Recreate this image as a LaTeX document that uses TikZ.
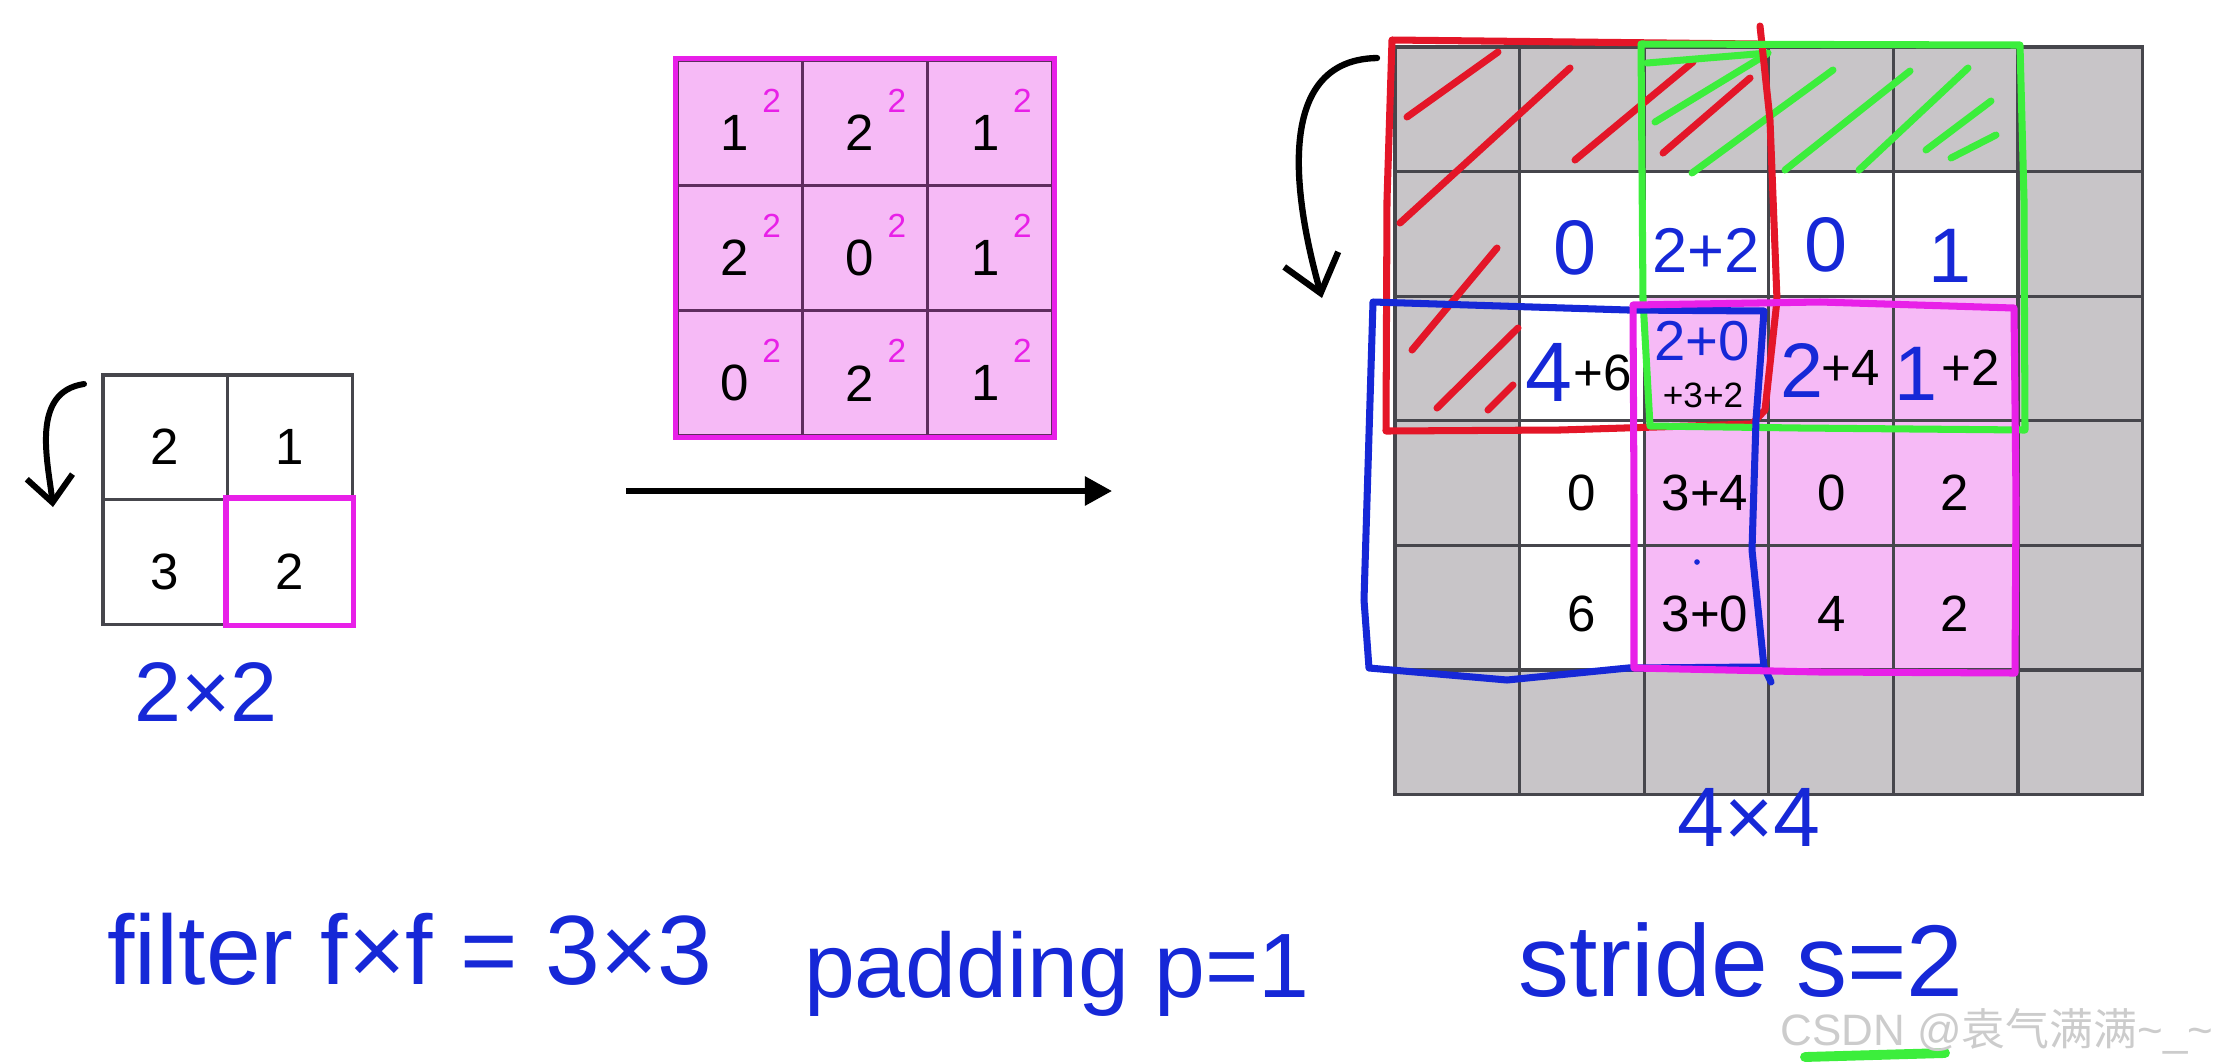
\documentclass[tikz,border=0pt]{standalone}
\usepackage{fontspec}
\setmainfont{Liberation Sans}
\newfontfamily\cjkfont{Noto Sans CJK SC}
\usetikzlibrary{arrows.meta}

\definecolor{penblue}{RGB}{22,40,215}
\definecolor{penred}{RGB}{228,22,40}
\definecolor{pengreen}{RGB}{60,238,60}
\definecolor{magline}{RGB}{232,32,232}
\definecolor{pinkcell}{RGB}{246,186,246}
\definecolor{padgray}{RGB}{200,197,200}
\definecolor{gridgray}{RGB}{70,70,76}
\definecolor{filtline}{RGB}{95,45,95}

\begin{document}
\begin{tikzpicture}[x=0.01cm, y=-0.01cm,
    every node/.style={font=\fontsize{14.5}{16}\selectfont, inner sep=0pt},
    cl/.style={draw=gridgray, line width=0.9pt, minimum size=1.246cm},
    fl/.style={draw=filtline, line width=0.9pt, fill=pinkcell, minimum size=1.253cm},
    hw/.style={text=penblue, font=\fontsize{#1}{#1}\selectfont}, hw/.default=22,
    sq/.style={text=magline, font=\fontsize{9.5}{10}\selectfont},
    pen/.style={line width=2pt, line cap=round, line join=round}]
\useasboundingbox (0,0) rectangle (2217,1063);

% kernel 2x2
\foreach \r/\c/\v in {0/0/2, 0/1/1, 1/0/3, 1/1/2} {
    \node[cl, minimum size=1.245cm] (k\r\c) at (165.3+124.5*\c, 437.3+124.5*\r) {};
    \node (kv\r\c) at (165+124.5*\c, 447+124.5*\r) {\v};
}
\draw[magline, line width=1.6pt] (k11.north west) rectangle (k11.south east);
\coordinate (ka) at (84,384);
\coordinate (kb) at (53,507);
\draw[line width=1.7pt, line cap=round, -{Straight Barb[length=0.26cm, width=0.46cm]}]
    (ka) .. controls (30,392) and (48,462) .. (kb);
\node[hw=24] (kdim) at (206,692) {2×2};

% filter 3x3
\foreach \r/\c/\v in {0/0/1, 0/1/2, 0/2/1, 1/0/2, 1/1/0, 1/2/1, 2/0/0, 2/1/2, 2/2/1} {
    \node[fl] (f\r\c) at (739.7+125.3*\c, 122.7+125.3*\r) {};
    \node (fv\r\c) at (734.7+125.3*\c, 132.7+125.3*\r) {\v};
    \node[sq] (fs\r\c) at (771.7+125.3*\c, 100.7+125.3*\r) {2};
}
\draw[magline, line width=1.4pt] (f00.north west) rectangle (f22.south east);

% conv arrow
\coordinate (a1) at (626,491);
\coordinate (a2) at (1112,491);
\draw[line width=1.6pt, -{Triangle[length=0.27cm, width=0.28cm]}] (a1) -- (a2);

% padded input 6x6
\foreach \r in {0,...,5}
    \foreach \c in {0,...,5}
        \node[cl, fill=padgray] (g\r\c) at (1457.3+124.6*\c, 109.3+124.6*\r) {};
\foreach \r in {1,...,4}
    \foreach \c in {1,...,4}
        \node[cl, fill=white] (g\r\c) at (1457.3+124.6*\c, 109.3+124.6*\r) {};
\foreach \r in {2,3,4}
    \foreach \c in {2,3,4}
        \node[cl, fill=pinkcell] (g\r\c) at (1457.3+124.6*\c, 109.3+124.6*\r) {};

% printed values
\foreach \x/\y/\t [count=\i] in {1582/493/0, 1705/493/3+4, 1832/493/0, 1955/493/2,
        1582/614/6, 1705/614/3+0, 1832/614/4, 1955/614/2,
        1603/373/+6, 1851/368/+4, 1971/368/+2}
    \node (p\i) at (\x,\y) {\t};
\node[font=\fontsize{10}{12}\selectfont] (p12) at (1703,395) {+3+2};
\fill[penblue] (1697,562) circle (0.8pt);

% pen values
\foreach \x/\y/\t/\s [count=\i] in {1575/248/0/22, 1706/250/2+2/18, 1826/245/0/22, 1950/256/1/22,
        1549/372/4/24, 1702/341/2+0/16, 1802/370/2/22, 1916/374/1/22}
    \node[hw=\s] (h\i) at (\x,\y) {\t};

% hatch on padding
\foreach \xa/\ya/\xb/\yb in {1407/117/1498/52, 1400/223/1570/68, 1575/160/1693/62, 1663/153/1750/78,
        1412/350/1497/248, 1437/408/1518/328, 1488/410/1513/385}
    \draw[pen, penred] (\xa,\ya) -- (\xb,\yb);
\foreach \xa/\ya/\xb/\yb in {1647/63/1768/53, 1655/122/1767/54, 1692/173/1833/70, 1785/170/1910/71,
        1859/170/1968/68, 1926/150/1991/101, 1951/158/1996/135}
    \draw[pen, pengreen] (\xa,\ya) -- (\xb,\yb);

% windows
\draw[pen, penred] (1392,40) -- (1757,44)
    (1760,26) -- (1770,120) -- (1777,300) -- (1765,410) -- (1752,424) -- (1560,430) -- (1386,431) -- (1387,200) -- (1392,40);
\draw[pen, pengreen] (1641,44) -- (2020,45) -- (2024,200) -- (2025,430) -- (1800,428) -- (1650,426) -- (1643,300) -- cycle;
\draw[pen, penblue] (1373,302) -- (1628,310) -- (1764,311) -- (1756,420) -- (1752,550) -- (1764,667) -- (1771,682)
    (1764,667) -- (1628,668) -- (1507,680) -- (1369,668) -- (1364,600) -- (1373,302);
\draw[pen, magline] (1633,305) -- (1820,302) -- (2014,308) -- (2016,500) -- (2015,673) -- (1820,672) -- (1634,668) -- (1634,500) -- cycle;

\coordinate (ga) at (1377,58);
\coordinate (gb) at (1322,298);
\draw[line width=1.8pt, line cap=round, -{Straight Barb[length=0.35cm, width=0.56cm]}]
    (ga) .. controls (1262,60) and (1303,230) .. (gb);
\node[hw=24] (gdim) at (1749,817) {4×4};

% hyper-parameters
\node[hw=28] (lf) at (410,949) {filter f×f = 3×3};
\node[hw=26, anchor=base] (lp) at (1057,997) {padding p=1};
\node[hw=29, anchor=base] (ls) at (1741,996) {stride s=2};
\coordinate (u1) at (1805,1057);
\coordinate (u2) at (1945,1053);
\draw[pengreen, line width=2.8pt, line cap=round] (u1) -- (u2);
\node[anchor=east, text=black!20, font=\fontsize{12.5}{14}\selectfont] (wm) at (2214,1031) {CSDN @{\cjkfont 袁气满满}\textasciitilde\_\textasciitilde};
\end{tikzpicture}
\end{document}
